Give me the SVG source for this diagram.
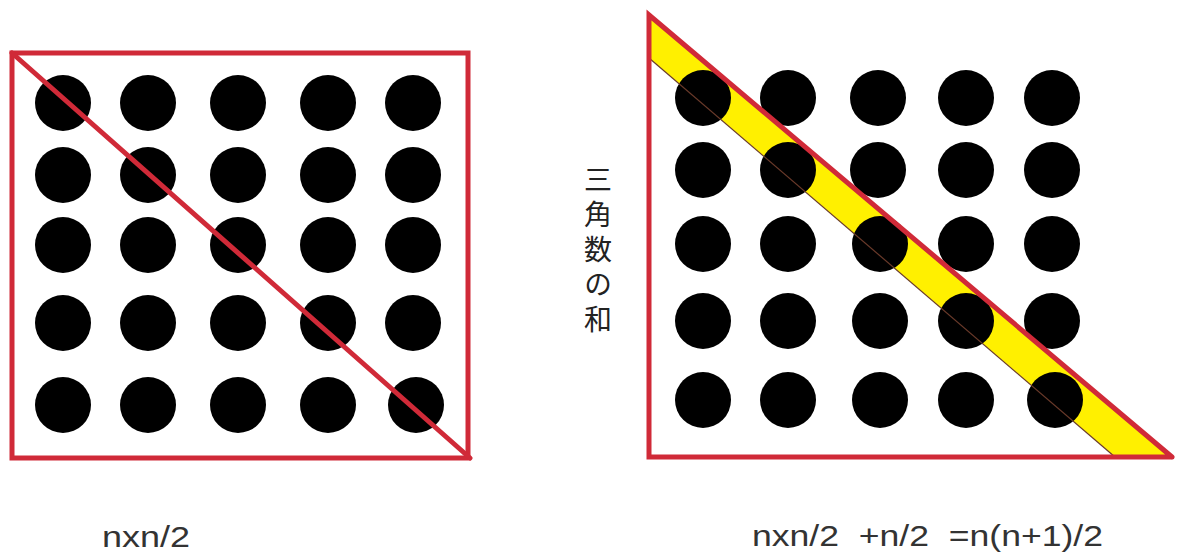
<svg xmlns="http://www.w3.org/2000/svg" width="1178" height="558" viewBox="0 0 1178 558">
<style>
.red{stroke:#d02a38;stroke-width:5;fill:none;stroke-linecap:round}
.dot{fill:#000}
.lbl{font-family:"Liberation Sans","Noto Sans CJK JP",sans-serif;font-size:30px;fill:#333;white-space:pre}
.cjk{font-family:"Noto Sans CJK JP",sans-serif;font-size:28px;fill:#222;writing-mode:vertical-rl;letter-spacing:7px}
</style>
<rect width="1178" height="558" fill="#fff"/>
<g id="left-square">
  <g class="dot">
    <circle cx="63" cy="103" r="28"/><circle cx="148" cy="103" r="28"/><circle cx="238" cy="103" r="28"/><circle cx="328" cy="103" r="28"/><circle cx="413" cy="103" r="28"/>
    <circle cx="63" cy="175" r="28"/><circle cx="148" cy="175" r="28"/><circle cx="238" cy="175" r="28"/><circle cx="328" cy="175" r="28"/><circle cx="413" cy="175" r="28"/>
    <circle cx="63" cy="245" r="28"/><circle cx="148" cy="245" r="28"/><circle cx="238" cy="245" r="28"/><circle cx="328" cy="245" r="28"/><circle cx="413" cy="245" r="28"/>
    <circle cx="63" cy="323" r="28"/><circle cx="148" cy="323" r="28"/><circle cx="238" cy="323" r="28"/><circle cx="328" cy="323" r="28"/><circle cx="413" cy="323" r="28"/>
    <circle cx="63" cy="405" r="28"/><circle cx="148" cy="405" r="28"/><circle cx="238" cy="405" r="28"/><circle cx="328" cy="405" r="28"/><circle cx="416" cy="405" r="28"/>
  </g>
  <rect class="red" x="12" y="53" width="456" height="405"/>
  <line class="red" x1="12" y1="53" x2="470" y2="458"/>
</g>
<g id="right-triangle">
  <polygon points="649,15 1172,457 1115,457 649,58" fill="#fff000"/>
  <g class="dot">
    <circle cx="703" cy="98" r="28"/><circle cx="788" cy="98" r="28"/><circle cx="878" cy="98" r="28"/><circle cx="966" cy="98" r="28"/><circle cx="1052" cy="98" r="28"/>
    <circle cx="703" cy="170" r="28"/><circle cx="788" cy="170" r="28"/><circle cx="878" cy="170" r="28"/><circle cx="966" cy="170" r="28"/><circle cx="1052" cy="170" r="28"/>
    <circle cx="703" cy="244" r="28"/><circle cx="788" cy="244" r="28"/><circle cx="880" cy="244" r="28"/><circle cx="966" cy="244" r="28"/><circle cx="1052" cy="244" r="28"/>
    <circle cx="703" cy="321" r="28"/><circle cx="788" cy="321" r="28"/><circle cx="880" cy="321" r="28"/><circle cx="966" cy="321" r="28"/><circle cx="1052" cy="321" r="28"/>
    <circle cx="703" cy="400" r="28"/><circle cx="788" cy="400" r="28"/><circle cx="880" cy="400" r="28"/><circle cx="966" cy="400" r="28"/><circle cx="1055" cy="400" r="28"/>
  </g>
  <line x1="649" y1="58" x2="1115" y2="457" stroke="#6a3a2a" stroke-width="1.2"/>
  <polyline class="red" points="1172,457 649,457 649,15 1172,457"/>
</g>
<g id="labels">
  <text class="lbl" x="102" y="547" textLength="88" lengthAdjust="spacingAndGlyphs">nxn/2</text>
  <text class="lbl" xml:space="preserve" x="752" y="546" textLength="351" lengthAdjust="spacingAndGlyphs">nxn/2  +n/2  =n(n+1)/2</text>
  <text class="cjk" x="598" y="165">三角数の和</text>
</g>
</svg>
